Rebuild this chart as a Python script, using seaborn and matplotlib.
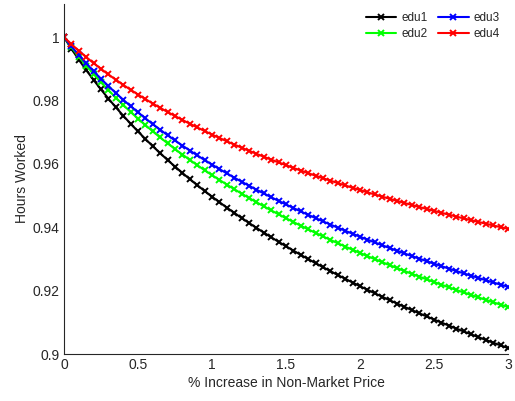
import numpy as np
import pandas as pd
import matplotlib
matplotlib.use("Agg")
import matplotlib.pyplot as plt
import seaborn as sns

x_vals = [round(0.05 * i, 2) for i in range(61)]

edu1 = [1.0000, 0.99637, 0.99292, 0.98964, 0.98651, 0.98351, 0.98065, 0.97789, 0.97525, 0.97270,
        0.97025, 0.96788, 0.96559, 0.96338, 0.96124, 0.95917, 0.95716, 0.95520, 0.95331, 0.95146,
        0.94967, 0.94793, 0.94622, 0.94457, 0.94295, 0.94137, 0.93983, 0.93833, 0.93686, 0.93542,
        0.93401, 0.93264, 0.93129, 0.92997, 0.92867, 0.92741, 0.92616, 0.92494, 0.92374, 0.92257,
        0.92141, 0.92028, 0.91916, 0.91807, 0.91699, 0.91593, 0.91489, 0.91387, 0.91286, 0.91187,
        0.91089, 0.90993, 0.90898, 0.90805, 0.90712, 0.90622, 0.90532, 0.90444, 0.90357, 0.90272,
        0.90187]
edu2 = [1.0000, 0.99687, 0.99390, 0.99107, 0.98836, 0.98578, 0.98330, 0.98092, 0.97863, 0.97643,
        0.97431, 0.97226, 0.97028, 0.96836, 0.96651, 0.96471, 0.96297, 0.96127, 0.95963, 0.95803,
        0.95648, 0.95496, 0.95348, 0.95205, 0.95064, 0.94927, 0.94793, 0.94662, 0.94534, 0.94409,
        0.94287, 0.94167, 0.94050, 0.93935, 0.93822, 0.93712, 0.93603, 0.93497, 0.93393, 0.93290,
        0.93190, 0.93091, 0.92994, 0.92898, 0.92805, 0.92712, 0.92621, 0.92532, 0.92444, 0.92357,
        0.92272, 0.92188, 0.92105, 0.92024, 0.91943, 0.91864, 0.91786, 0.91709, 0.91633, 0.91558,
        0.91484]
edu3 = [1.0000, 0.99712, 0.99437, 0.99176, 0.98927, 0.98688, 0.98459, 0.98239, 0.98028, 0.97824,
        0.97628, 0.97439, 0.97256, 0.97079, 0.96908, 0.96741, 0.96580, 0.96424, 0.96272, 0.96124,
        0.95980, 0.95839, 0.95703, 0.95570, 0.95440, 0.95313, 0.95189, 0.95068, 0.94949, 0.94833,
        0.94720, 0.94609, 0.94500, 0.94394, 0.94290, 0.94187, 0.94087, 0.93988, 0.93891, 0.93796,
        0.93703, 0.93612, 0.93521, 0.93433, 0.93346, 0.93260, 0.93176, 0.93093, 0.93011, 0.92931,
        0.92852, 0.92774, 0.92697, 0.92621, 0.92547, 0.92473, 0.92401, 0.92329, 0.92259, 0.92189,
        0.92121]
edu4 = [1.0000, 0.99781, 0.99572, 0.99373, 0.99183, 0.99001, 0.98826, 0.98659, 0.98497, 0.98342,
        0.98192, 0.98047, 0.97907, 0.97772, 0.97640, 0.97513, 0.97390, 0.97270, 0.97153, 0.97040,
        0.96929, 0.96821, 0.96716, 0.96614, 0.96514, 0.96417, 0.96321, 0.96228, 0.96137, 0.96048,
        0.95961, 0.95875, 0.95791, 0.95709, 0.95629, 0.95550, 0.95472, 0.95396, 0.95322, 0.95248,
        0.95177, 0.95106, 0.95036, 0.94968, 0.94900, 0.94834, 0.94769, 0.94705, 0.94642, 0.94580,
        0.94519, 0.94458, 0.94399, 0.94340, 0.94282, 0.94225, 0.94169, 0.94114, 0.94059, 0.94005,
        0.93952]

series_names = ["edu1", "edu2", "edu3", "edu4"]
series_vals = [edu1, edu2, edu3, edu4]
colors = ["#000000", "#00ff00", "#0000ff", "#ff0000"]

x_ticks = [0, 0.5, 1, 1.5, 2, 2.5, 3]
x_tick_labels = ["0", "0.5", "1", "1.5", "2", "2.5", "3"]
y_ticks = [0.9, 0.92, 0.94, 0.96, 0.98, 1.0]
y_tick_labels = ["0.9", "0.92", "0.94", "0.96", "0.98", "1"]

sns.set_style("white")
plt.rcParams["font.family"] = ["Liberation Sans", "DejaVu Sans"]

fig = plt.figure(figsize=(5.15, 4.01), dpi=100)
ax = fig.add_axes([64 / 515, 1 - 354 / 401, 444 / 515, 350 / 401])

for name, vals, c in zip(series_names, series_vals, colors):
    sns.lineplot(x=x_vals, y=vals, color=c, marker="x", markersize=4.5,
                 markeredgewidth=1.4, markeredgecolor=c, linewidth=1.5,
                 label=name, ax=ax)

ax.set_xlim(0, 3)
ax.set_ylim(0.9, 1.0105)
ax.set_xticks(x_ticks)
ax.set_xticklabels(x_tick_labels)
ax.set_yticks(y_ticks)
ax.set_yticklabels(y_tick_labels)
ax.tick_params(direction="in", length=4, width=0.8, labelsize=10, colors="#262626",
               pad=3)
for side in ["top", "right"]:
    ax.spines[side].set_visible(False)
for side in ["left", "bottom"]:
    ax.spines[side].set_color("#262626")
    ax.spines[side].set_linewidth(0.8)

ax.set_xlabel("% Increase in Non-Market Price", fontsize=10, color="#262626", labelpad=3)
ax.set_ylabel("Hours Worked", fontsize=10, color="#262626", labelpad=3)

leg = ax.legend(loc="upper right", ncol=2, frameon=False, fontsize=8.5,
                handlelength=2.6, columnspacing=0.9, handletextpad=0.4,
                bbox_to_anchor=(1.0, 1.0), borderaxespad=0.3, labelspacing=0.35)

fig.savefig("out.png", dpi=100)
